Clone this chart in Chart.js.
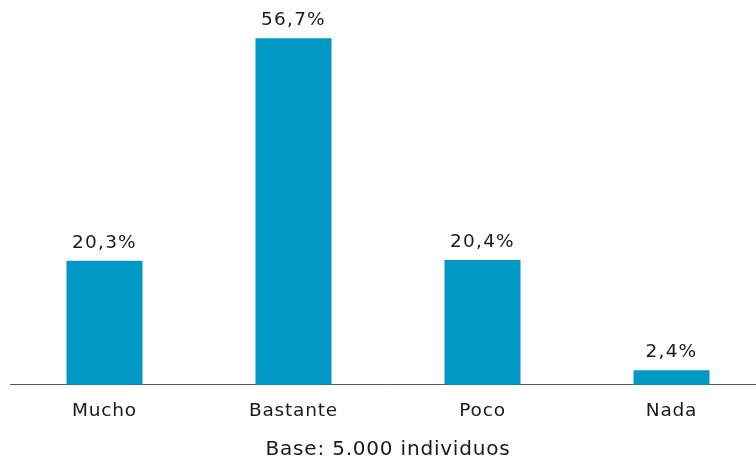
<!DOCTYPE html>
<html>
<head>
<meta charset="utf-8">
<script src="https://cdn.jsdelivr.net/npm/chart.js@4"></script>
<style>
  html, body { margin: 0; padding: 0; background: #ffffff; overflow: hidden; }
  #wrap { width: 766px; height: 464px; position: relative; }
</style>
</head>
<body>
<div id="wrap"><canvas id="c" width="766" height="464"></canvas></div>
<script>
const categories = ["Mucho", "Bastante", "Poco", "Nada"];
const values = [20.3, 56.7, 20.4, 2.4];
const valueLabels = ["20,3%", "56,7%", "20,4%", "2,4%"];
const footnote = "Base: 5.000 individuos";

const FONT = "'DejaVu Sans', Verdana, sans-serif";

const spacing = {
  id: 'spacing',
  beforeUpdate(chart) { chart.ctx.letterSpacing = '0.8px'; },
  beforeDraw(chart) { chart.ctx.letterSpacing = '0.8px'; }
};

const barLabels = {
  id: 'barLabels',
  afterDatasetsDraw(chart) {
    const ctx = chart.ctx;
    const meta = chart.getDatasetMeta(0);
    ctx.save();
    ctx.letterSpacing = '1.2px';
    ctx.font = "18.5px " + FONT;
    ctx.fillStyle = "#1a1a1a";
    ctx.textAlign = "center";
    ctx.textBaseline = "middle";
    meta.data.forEach((bar, i) => {
      ctx.fillText(valueLabels[i], bar.x, bar.y - 18);
    });
    ctx.restore();
  }
};

new Chart(document.getElementById('c'), {
  type: 'bar',
  data: {
    labels: categories,
    datasets: [{
      data: values,
      backgroundColor: '#0099C6',
      borderWidth: 0,
      categoryPercentage: 1,
      barPercentage: 76 / 189
    }]
  },
  options: {
    responsive: false,
    animation: false,
    layout: { padding: { top: 18, left: 10, right: 0, bottom: 0 } },
    plugins: {
      legend: { display: false },
      tooltip: { enabled: false },
      title: {
        display: true,
        position: 'bottom',
        text: footnote,
        color: '#1a1a1a',
        font: { family: FONT, size: 20, weight: 'normal', lineHeight: 1.2 },
        padding: { top: 1, bottom: 2 }
      }
    },
    scales: {
      x: {
        grid: { display: false, drawTicks: false },
        border: { display: true, color: '#595959', width: 1 },
        ticks: {
          color: '#1a1a1a',
          padding: 15,
          font: { family: FONT, size: 18.5, lineHeight: 1.2 }
        }
      },
      y: {
        display: false,
        min: 0,
        max: 60
      }
    }
  },
  plugins: [spacing, barLabels]
});
</script>
</body>
</html>
